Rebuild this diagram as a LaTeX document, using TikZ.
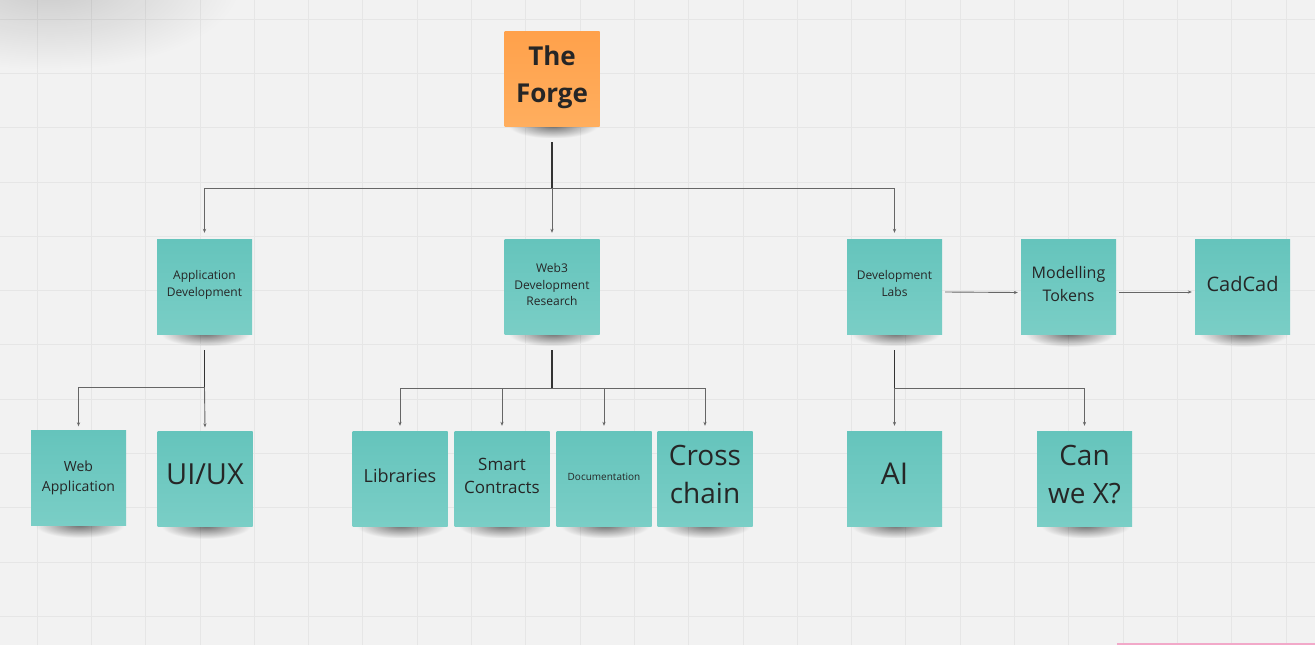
\documentclass[tikz,border=0pt]{standalone}
\usepackage{fontspec}
\setmainfont{Open Sans}
\usetikzlibrary{arrows.meta,fadings}
\pgfdeclarelayer{bg}\pgfsetlayers{bg,main}
\definecolor{bgc}{HTML}{F2F2F2}
\definecolor{gridc}{HTML}{E6E6E6}
\definecolor{tealtop}{HTML}{65C4BC}
\definecolor{tealbot}{HTML}{7ACEC6}
\definecolor{orgtop}{HTML}{FFA14B}
\definecolor{orgbot}{HTML}{FFAE5E}
\definecolor{txt}{HTML}{262626}
\definecolor{stemc}{HTML}{333333}
\definecolor{branchc}{HTML}{666666}
\definecolor{pinkc}{HTML}{F2A9C9}
\tikzfading[name=shfade, inner color=transparent!0, outer color=transparent!100]
\tikzfading[name=cornerfade, inner color=transparent!0, outer color=transparent!100]
\tikzset{
  note/.style={rectangle, minimum width=95pt, minimum height=95pt, inner sep=0pt,
    top color=tealtop, bottom color=tealbot, draw=none, text=txt, align=center},
  forgebox/.style={note, top color=orgtop, bottom color=orgbot},
  smalltext/.style={font=\fontsize{12}{16.5}\selectfont},
  stemline/.style={draw=stemc, line width=1.3pt},
  branch/.style={draw=branchc, line width=0.9pt},
  arr/.style={branch, -{Stealth[length=4pt,width=3.2pt]}},
}
\newcommand{\nshadow}[1]{%
  \fill[black, opacity=0.55, path fading=shfade]
    ([xshift=4pt,yshift=14pt]#1.south west) rectangle ([xshift=-2pt,yshift=-12pt]#1.south east);}
\begin{document}
\begin{tikzpicture}[x=1pt,y=-1pt]
\useasboundingbox (0,0) rectangle (1315,645);
% nodes
\node[forgebox, font=\fontsize{26}{37}\selectfont\bfseries, text depth=9.5pt] (forge) at (552,78.5) {The\\Forge};
\node[note, smalltext, text depth=6pt] (appdev) at (204.5,286.5) {Application\\Development};
\node[note, smalltext, text depth=4pt] (web3) at (552,286.5) {Web3\\Development\\Research};
\node[note, smalltext, text depth=6pt] (devlabs) at (894.5,286.5) {Development\\Labs};
\node[note, font=\fontsize{16}{23}\selectfont, text depth=6pt] (model) at (1068.5,287) {Modelling\\Tokens};
\node[note, font=\fontsize{20}{26}\selectfont, text depth=6pt] (cadcad) at (1242.5,287) {CadCad};
\node[note, font=\fontsize{14}{20}\selectfont] (webapp) at (78.5,478) {Web\\Application};
\node[note, font=\fontsize{29}{38}\selectfont, text depth=10pt] (uiux) at (205,479) {UI/UX};
\node[note, font=\fontsize{18}{23}\selectfont, text depth=6pt] (libs) at (400,478.5) {Libraries};
\node[note, font=\fontsize{17}{23}\selectfont, text depth=6pt] (smart) at (502,478.5) {Smart\\Contracts};
\node[note, font=\fontsize{10}{13}\selectfont, text depth=4pt] (docs) at (604,478.5) {Documentation};
\node[note, font=\fontsize{28}{38}\selectfont, text depth=8pt] (cross) at (705,478.5) {Cross\\chain};
\node[note, font=\fontsize{30}{38}\selectfont, text depth=10pt] (ai) at (894.5,478.5) {AI};
\node[note, font=\fontsize{28}{38}\selectfont, text depth=8pt] (canx) at (1084.5,478.5) {Can\\we X?};
% background
\begin{pgfonlayer}{bg}
  \fill[bgc] (0,0) rectangle (1315,645);
  \foreach \k in {0,...,23} \draw[gridc, line width=0.8pt] ({37+54.3*\k},0) -- ({37+54.3*\k},645);
  \foreach \k in {0,...,11} \draw[gridc, line width=0.8pt] (0,{19+54.3*\k}) -- (1315,{19+54.3*\k});
  \fill[black, opacity=0.16, path fading=cornerfade] (50,-15) ellipse [x radius=190pt, y radius=85pt];
  \fill[pinkc] (1117,642.5) rectangle (1315,645);
  \foreach \n in {forge,appdev,web3,devlabs,model,cadcad,webapp,uiux,libs,smart,docs,cross,ai,canx} {\nshadow{\n}}
\end{pgfonlayer}
% junctions
\coordinate (fj) at (552,188);
\coordinate (aj) at (204.5,387.5);
\coordinate (wj) at (552,388);
\coordinate (dj) at (894.5,388);
% connectors from the forge
\draw[stemline] ([yshift=-16pt]forge.south) -- (fj);
\draw[arr] (fj) -| ([yshift=6pt]appdev.north);
\draw[arr] (fj) -- ([yshift=6pt]web3.north);
\draw[arr] (fj) -| ([yshift=6pt]devlabs.north);
% application development
\draw[stemline] ([yshift=-16pt]appdev.south) -- (aj);
\draw[arr] (aj) -| ([yshift=4pt]webapp.north);
\draw[arr] (aj) -- ([yshift=4pt]uiux.north);
% web3
\draw[stemline] ([yshift=-16pt]web3.south) -- (wj);
\draw[arr] (wj) -| ([yshift=5pt]libs.north);
\draw[arr] (wj) -| ([yshift=5pt]smart.north);
\draw[arr] (wj) -| ([yshift=5pt]docs.north);
\draw[arr] (wj) -| ([yshift=5pt]cross.north);
% development labs
\draw[stemline] ([yshift=-16pt]devlabs.south) -- (dj);
\draw[arr] (dj) -- ([yshift=5pt]ai.north);
\draw[arr] (dj) -| ([yshift=5pt]canx.north);
\draw[arr] ([xshift=3pt,yshift=-5.5pt]devlabs.east) -- ([xshift=-3pt,yshift=-5.5pt]model.west);
\draw[arr] ([xshift=3pt,yshift=-5pt]model.east) -- ([xshift=-3pt,yshift=-5pt]cadcad.west);
\end{tikzpicture}
\end{document}
